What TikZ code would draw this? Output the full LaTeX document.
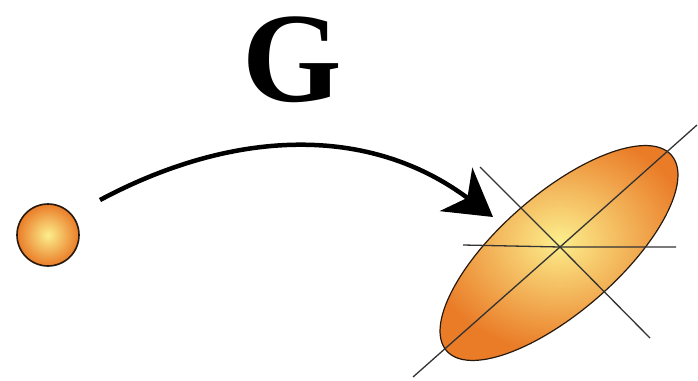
\documentclass[tikz,border=0pt]{standalone}
\usepackage{fontspec}
\setmainfont{Liberation Serif}
\usepackage{xcolor}
\definecolor{blobIn}{RGB}{252,238,140}
\definecolor{blobOut}{RGB}{234,124,40}
\colorlet{blobLine}{black!80!brown}
\usetikzlibrary{arrows.meta, positioning, shapes.geometric}
\tikzset{
	blob/.style={shade, inner color=blobIn, outer color=blobOut, draw=blobLine},
	axisline/.style={draw=black!80, line width=1.3pt},
	maparr/.style={line width=4.5pt, -{Stealth[length=46pt, width=54pt, inset=14pt]}},
}

\begin{document}
\begin{tikzpicture}[x=1pt, y=-1pt]
	\useasboundingbox (0,0) rectangle (698,380);

	% point before the map, and its image after it
	\node[blob, circle, line width=1.6pt, minimum size=62pt, inner sep=0pt] (src) at (48,235) {};
	\node[blob, ellipse, line width=1.2pt, minimum width=298pt, minimum height=118pt,
		inner sep=0pt, rotate=41] (img) at (559,253) {};

	% axes of the image
	\coordinate (ctr) at (560,247);
	\draw[axisline] (413,377) -- (ctr) -- (697,125);
	\draw[axisline] (463,245) -- (ctr) -- (676,247);
	\draw[axisline] (480,167) -- (ctr) -- (650,338);

	\coordinate (from) at (100,200);
	\coordinate (to) at (493,217);
	\draw[maparr] (from) .. controls (235,128) and (370,125) .. (to);

	\node[font=\fontsize{128}{128}\selectfont\bfseries, anchor=base] (lbl) at (292,101) {G};
\end{tikzpicture}
\end{document}
